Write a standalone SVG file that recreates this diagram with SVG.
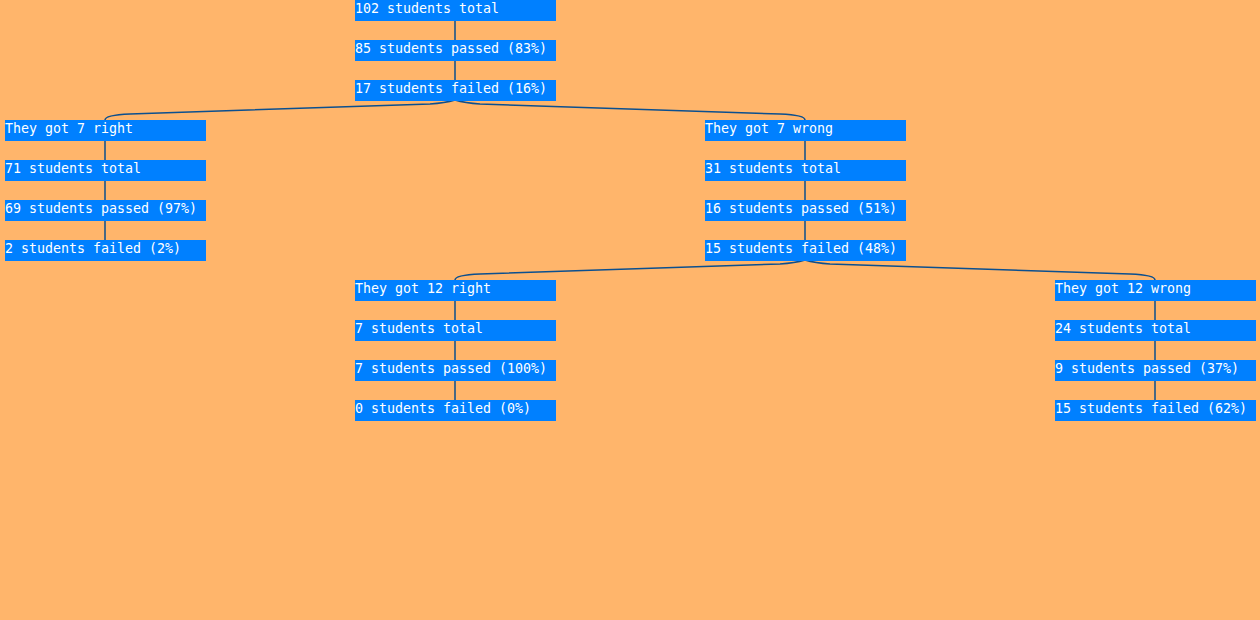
<svg xmlns="http://www.w3.org/2000/svg" width="1260" height="620" viewBox="0 0 1260 620">
<style>
.bg{fill:#ffb56b}
.box{fill:#0080ff}
.t{fill:#ffffff;font-family:"DejaVu Sans Mono","Liberation Mono",monospace;font-size:13.3px}
.c{fill:none;stroke:#0b4f8f;stroke-width:1.5}
</style>
<rect class="bg" x="0" y="0" width="1260" height="620"/>
<g id="connectors">
<path class="c" d="M455,20 V40 M455,60 V80"/>
<path class="c" d="M455,100 Q445,103 430,104 L130,114 Q105,115 105,120"/>
<path class="c" d="M455,100 Q465,103 480,104 L780,114 Q805,115 805,120"/>
<path class="c" d="M105,140 V160 M105,180 V200 M105,220 V240"/>
<path class="c" d="M805,140 V160 M805,180 V200 M805,220 V240"/>
<path class="c" d="M805,260 Q795,263 780,264 L480,274 Q455,275 455,280"/>
<path class="c" d="M805,260 Q815,263 830,264 L1130,274 Q1155,275 1155,280"/>
<path class="c" d="M455,300 V320 M455,340 V360 M455,380 V400"/>
<path class="c" d="M1155,300 V320 M1155,340 V360 M1155,380 V400"/>
</g>
<g id="root">
<rect class="box" x="355" y="0" width="201" height="21"/><text class="t" x="355" y="13">102 students total</text>
<rect class="box" x="355" y="40" width="201" height="21"/><text class="t" x="355" y="53">85 students passed (83%)</text>
<rect class="box" x="355" y="80" width="201" height="21"/><text class="t" x="355" y="93">17 students failed (16%)</text>
</g>
<g id="right7">
<rect class="box" x="5" y="120" width="201" height="21"/><text class="t" x="5" y="133">They got 7 right</text>
<rect class="box" x="5" y="160" width="201" height="21"/><text class="t" x="5" y="173">71 students total</text>
<rect class="box" x="5" y="200" width="201" height="21"/><text class="t" x="5" y="213">69 students passed (97%)</text>
<rect class="box" x="5" y="240" width="201" height="21"/><text class="t" x="5" y="253">2 students failed (2%)</text>
</g>
<g id="wrong7">
<rect class="box" x="705" y="120" width="201" height="21"/><text class="t" x="705" y="133">They got 7 wrong</text>
<rect class="box" x="705" y="160" width="201" height="21"/><text class="t" x="705" y="173">31 students total</text>
<rect class="box" x="705" y="200" width="201" height="21"/><text class="t" x="705" y="213">16 students passed (51%)</text>
<rect class="box" x="705" y="240" width="201" height="21"/><text class="t" x="705" y="253">15 students failed (48%)</text>
</g>
<g id="right12">
<rect class="box" x="355" y="280" width="201" height="21"/><text class="t" x="355" y="293">They got 12 right</text>
<rect class="box" x="355" y="320" width="201" height="21"/><text class="t" x="355" y="333">7 students total</text>
<rect class="box" x="355" y="360" width="201" height="21"/><text class="t" x="355" y="373">7 students passed (100%)</text>
<rect class="box" x="355" y="400" width="201" height="21"/><text class="t" x="355" y="413">0 students failed (0%)</text>
</g>
<g id="wrong12">
<rect class="box" x="1055" y="280" width="201" height="21"/><text class="t" x="1055" y="293">They got 12 wrong</text>
<rect class="box" x="1055" y="320" width="201" height="21"/><text class="t" x="1055" y="333">24 students total</text>
<rect class="box" x="1055" y="360" width="201" height="21"/><text class="t" x="1055" y="373">9 students passed (37%)</text>
<rect class="box" x="1055" y="400" width="201" height="21"/><text class="t" x="1055" y="413">15 students failed (62%)</text>
</g>
</svg>
